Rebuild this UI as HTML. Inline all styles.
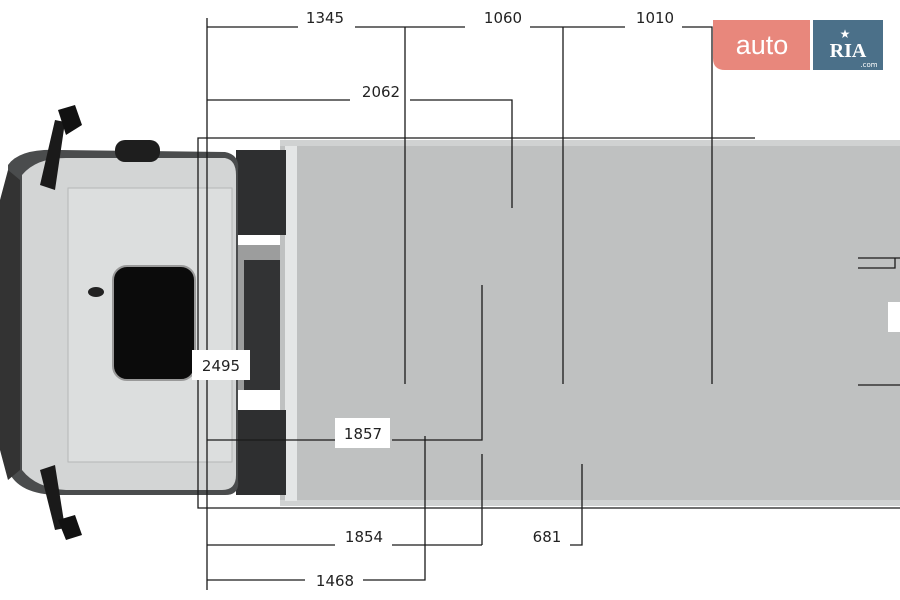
<!DOCTYPE html>
<html><head><style>
body{margin:0;background:#fff;}
svg{display:block}
text{font-family:"DejaVu Sans","Liberation Sans",sans-serif;font-size:15px;fill:#222;}
</style></head><body>
<svg width="900" height="600" viewBox="0 0 900 600" xmlns="http://www.w3.org/2000/svg">
<rect x="280" y="140" width="620" height="366" fill="#bfc1c1"/>
<rect x="280" y="140" width="620" height="6" fill="#d0d2d2"/>
<rect x="280" y="500" width="620" height="6" fill="#d0d2d2"/>
<rect x="285" y="146" width="12" height="355" fill="#e4e6e6"/>
<rect x="236" y="150" width="50" height="85" fill="#2e2f30"/>
<rect x="236" y="410" width="50" height="85" fill="#2e2f30"/>
<rect x="244" y="260" width="36" height="130" fill="#2a2b2c"/>
<rect x="236" y="245" width="44" height="145" fill="#3a3b3c" opacity="0.5"/>
<path d="M8 165 Q20 148 60 150 L225 152 Q240 155 238 170 L238 480 Q240 495 225 495 L60 495 Q18 495 8 470 Z" fill="#4a4c4d"/>
<path d="M22 175 Q36 158 66 158 L225 158 Q236 160 236 175 L236 475 Q236 490 222 490 L66 490 Q36 488 22 470 Z" fill="#d3d5d5"/>
<path d="M68 188 L232 188 L232 462 L68 462 Z" fill="#dcdede" stroke="#b5b7b7"/>
<rect x="113" y="266" width="82" height="114" rx="14" fill="#0b0b0b" stroke="#999" stroke-width="2"/>
<ellipse cx="96" cy="292" rx="8" ry="5" fill="#222"/>
<path d="M8 170 L0 200 L0 450 L8 480 L20 470 L20 180 Z" fill="#333"/>
<rect x="115" y="140" width="45" height="22" rx="10" fill="#1e1e1e"/>
<path d="M40 185 L55 120 L65 122 L55 190 Z" fill="#1a1a1a"/>
<path d="M58 110 L75 105 L82 125 L66 135 Z" fill="#111"/>
<path d="M40 470 L55 530 L65 528 L55 465 Z" fill="#1a1a1a"/>
<path d="M58 520 L75 515 L82 535 L66 540 Z" fill="#111"/>
<g stroke="#1a1a1a" stroke-width="1.3" fill="none">
<path d="M755 138 L198 138 L198 508 L900 508"/>
<path d="M207 18 L207 590"/>
<path d="M207 27 L298 27 M355 27 L465 27 M405 27 L405 384 M530 27 L625 27 M563 27 L563 384 M682 27 L712 27 L712 384"/>
<path d="M207 100 L350 100 M410 100 L512 100 L512 208"/>
<path d="M207 440 L335 440 M392 440 L482 440 L482 285"/>
<path d="M207 545 L335 545 M392 545 L482 545 M482 454 L482 545 M570 545 L582 545 L582 464"/>
<path d="M207 580 L305 580 M363 580 L425 580 L425 436"/>
<path d="M858 258 L900 258 M858 268 L895 268 L895 258 M858 385 L900 385"/>
</g>
<rect x="888" y="302" width="12" height="30" fill="#fff"/>
<rect x="192" y="350" width="58" height="30" fill="#fff"/>
<rect x="335" y="418" width="55" height="30" fill="#fff"/>
<text x="325" y="23" text-anchor="middle">1345</text>
<text x="503" y="23" text-anchor="middle">1060</text>
<text x="655" y="23" text-anchor="middle">1010</text>
<text x="381" y="97" text-anchor="middle">2062</text>
<text x="221" y="371" text-anchor="middle">2495</text>
<text x="363" y="439" text-anchor="middle">1857</text>
<text x="364" y="542" text-anchor="middle">1854</text>
<text x="547" y="542" text-anchor="middle">681</text>
<text x="335" y="586" text-anchor="middle">1468</text>
<path d="M713 20 L810 20 L810 70 L725 70 Q713 70 713 58 Z" fill="#e8877c"/>
<text x="762" y="54" text-anchor="middle" style="font-size:27px;fill:#fff;font-family:'Liberation Sans',sans-serif">auto</text>
<rect x="813" y="20" width="70" height="50" fill="#4b7089"/>
<text x="848" y="57" text-anchor="middle" style="font-size:20px;fill:#fff;font-weight:bold;font-family:'Liberation Serif',serif">RIA</text>
<text x="869" y="67" text-anchor="middle" style="font-size:7px;fill:#fff">.com</text>
<text x="845" y="38" text-anchor="middle" style="font-size:12px;fill:#fff">★</text>
</svg>
</body></html>
